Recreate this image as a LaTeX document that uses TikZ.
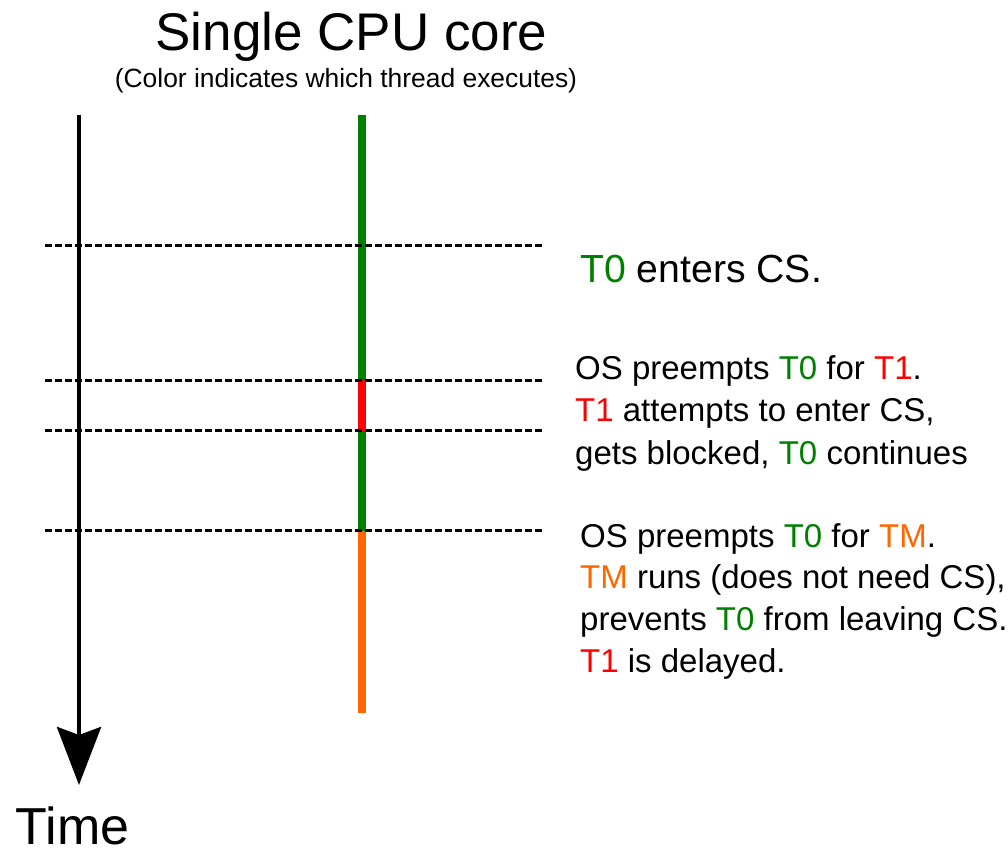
\documentclass[tikz,border=0pt]{standalone}
\usepackage{fontspec}
\setmainfont{Liberation Sans}
\usetikzlibrary{arrows.meta}
\definecolor{tgreen}{RGB}{0,128,0}
\definecolor{tred}{RGB}{255,0,0}
\definecolor{torange}{RGB}{255,102,0}
\newcommand{\Tz}{\textcolor{tgreen}{T0}}
\newcommand{\Tone}{\textcolor{tred}{T1}}
\newcommand{\Tm}{\textcolor{torange}{TM}}
\begin{document}
\begin{tikzpicture}[x=1pt,y=-1pt,
  lbl/.style={inner sep=0pt, anchor=base west, font=\fontsize{33}{40}\selectfont},
  seg/.style={line width=8.5pt, line cap=butt},
  sep/.style={line width=3pt, dash pattern=on 6.5pt off 3.5pt},
  timeline/.style={line width=4.5pt, -{Stealth[length=58pt,width=44pt,inset=8pt]}}]
\useasboundingbox (0,0) rectangle (1008,850);
% titles
\node[inner sep=0pt, anchor=base, font=\fontsize{53}{60}\selectfont] (title) at (351.5,51) {Single CPU core};
\node[inner sep=0pt, anchor=base, font=\fontsize{26.4}{30}\selectfont] (sub) at (346,88) {(Color indicates which thread executes)};
% time axis
\coordinate (ttop) at (79,115);
\coordinate (tbot) at (79,785);
\draw[timeline] (ttop) -- (tbot);
\node[inner sep=0pt, anchor=base, font=\fontsize{52}{60}\selectfont] (time) at (72.5,844) {Time};
% core timeline
\coordinate (c0) at (362,115);
\coordinate (c1) at (362,380);
\coordinate (c2) at (362,430.5);
\coordinate (c3) at (362,530.5);
\coordinate (c4) at (362,713);
\draw[seg, tgreen] (c0) -- (c1);
\draw[seg, tred] (c1) -- (c2);
\draw[seg, tgreen] (c2) -- (c3);
\draw[seg, torange] (c3) -- (c4);
% dashed separators
\foreach \y/\n in {245/a,380/b,430.5/c,530.5/d}{
  \coordinate (l\n) at (45,\y);
  \coordinate (r\n) at (543,\y);
  \draw[sep] (l\n) -- (r\n);
}
% annotations
\node[lbl, font=\fontsize{39.2}{45}\selectfont] (e1) at (580,282) {\Tz{} enters CS.};
\node[lbl] (b1) at (575,379) {OS preempts \Tz{} for \Tone.};
\node[lbl] (b2) at (575,421.5) {\Tone{} attempts to enter CS,};
\node[lbl] (b3) at (575,464) {gets blocked, \Tz{} continues};
\node[lbl] (d1) at (580,547) {OS preempts \Tz{} for \Tm.};
\node[lbl] (d2) at (580,588.5) {\Tm{} runs (does not need CS),};
\node[lbl] (d3) at (580,630) {prevents \Tz{} from leaving CS.};
\node[lbl] (d4) at (580,672) {\Tone{} is delayed.};
\end{tikzpicture}
\end{document}
